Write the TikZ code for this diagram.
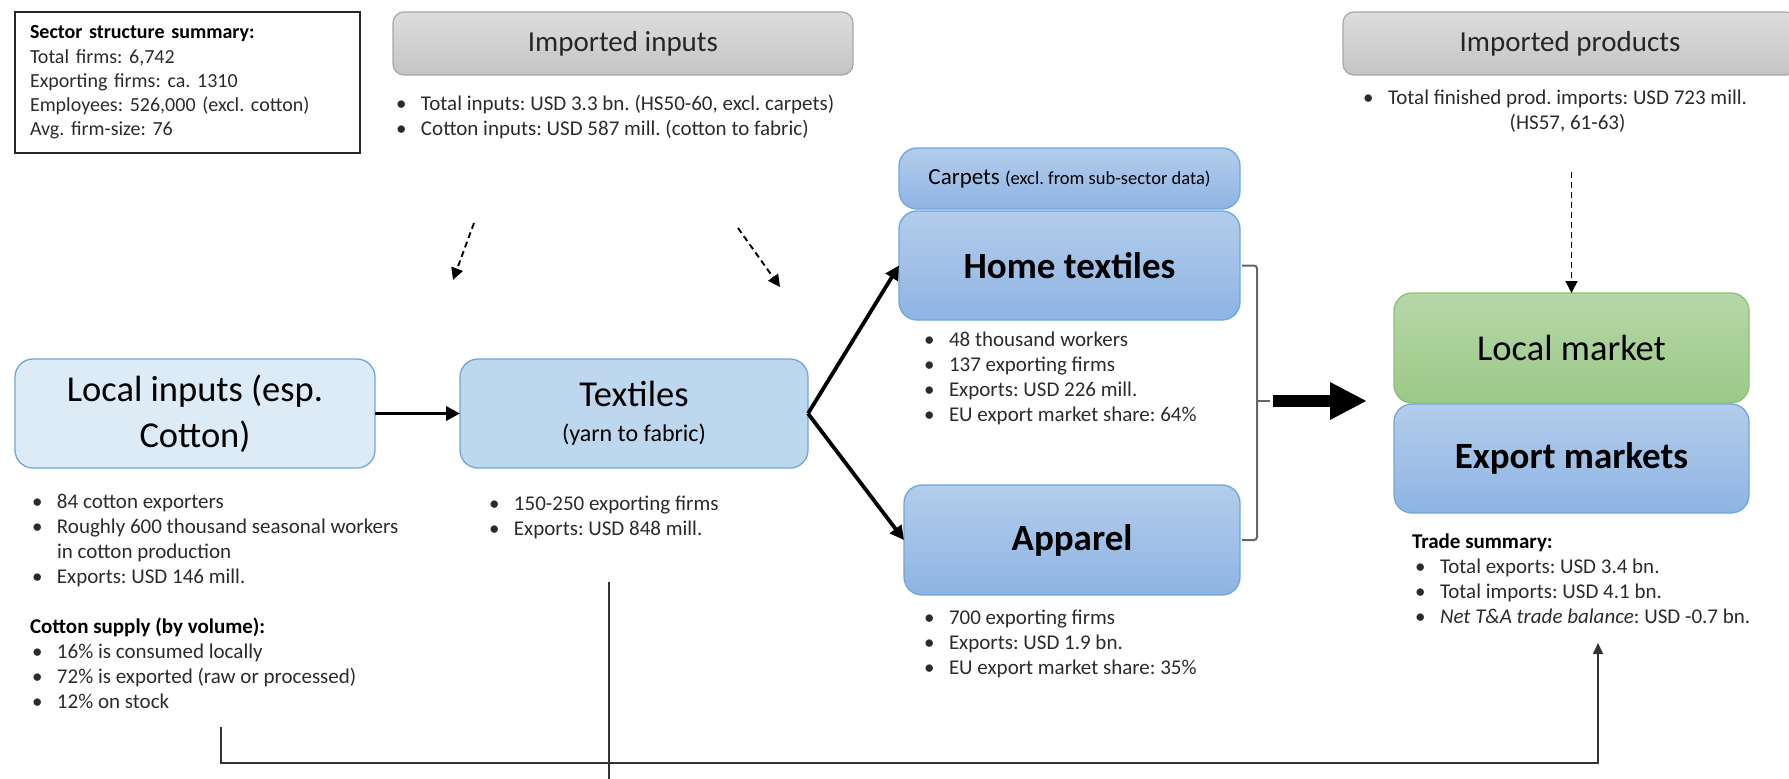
\documentclass[tikz,border=0pt]{standalone}
\usepackage{fontspec}
\setmainfont{Carlito}
\usetikzlibrary{arrows.meta}
\definecolor{lightfill}{HTML}{DDEBF7}
\definecolor{boxline}{HTML}{6FA6DC}
\definecolor{texfill}{HTML}{BDD7EE}
\definecolor{gbtop}{HTML}{B3CDEB}
\definecolor{gbbot}{HTML}{8EB4E3}
\definecolor{grtop}{HTML}{B6D7A8}
\definecolor{grbot}{HTML}{9BC987}
\definecolor{grline}{HTML}{8CC271}
\definecolor{gytop}{HTML}{DDDDDD}
\definecolor{gybot}{HTML}{C4C4C4}
\definecolor{gyline}{HTML}{A8A8A8}
\definecolor{bodytext}{HTML}{2B2B2B}
\newcommand{\bul}{\makebox[25pt][l]{\textbullet}}
\frenchspacing
\begin{document}
\begin{tikzpicture}[x=1pt,y=-1pt,
  every node/.style={inner sep=0pt,outer sep=0pt},
  boxbase/.style={rectangle,rounded corners=18pt,line width=1.3pt,align=center},
  lightbox/.style={boxbase,draw=boxline,fill=lightfill},
  texbox/.style={boxbase,draw=boxline,fill=texfill},
  bluebox/.style={boxbase,draw=boxline,top color=gbtop,bottom color=gbbot},
  greenbox/.style={boxbase,draw=grline,top color=grtop,bottom color=grbot},
  graybox/.style={rectangle,rounded corners=11pt,line width=1.2pt,draw=gyline,top color=gytop,bottom color=gybot,font=\fontsize{29}{34}\selectfont,text=black!85},
  title/.style={font=\fontsize{36.5}{45.5}\selectfont},
  btitle/.style={font=\fontsize{37}{45}\selectfont\bfseries},
  bultext/.style={anchor=north west,font=\fontsize{21}{25}\selectfont,text=bodytext},
  flow/.style={line width=3.8pt,-{Triangle[length=14pt,width=14pt]}},
  dasharr/.style={line width=1.9pt,dash pattern=on 6pt off 4pt,-{Triangle[length=12pt,width=12pt]}},
  conn/.style={line width=1.8pt,draw=black!80},
  bracket/.style={line width=2pt,draw=black!60,rounded corners=3pt}
]
\useasboundingbox (0,0) rectangle (1789,779);

% summary box
\node[draw=black!85,line width=1.3pt,minimum width=345pt,minimum height=141pt,text width=315pt,align=left,font=\fontsize{20}{24.3}\selectfont,text=bodytext] (summ) at (187.5,82.5)
 {\begin{tabular}{@{}l@{}}\textcolor{black}{\textbf{Sector structure summary:}}\\ Total firms: 6,742\\ Exporting firms: ca. 1310\\ Employees: 526,000 (excl. cotton)\\ Avg. firm-size: 76\end{tabular}};

% gray header boxes
\node[graybox,minimum width=460pt,minimum height=63pt] (impin) at (623,43.5) {Imported inputs};
\node[graybox,minimum width=454pt,minimum height=63pt] (impprod) at (1570,43.5) {Imported products};

\node[bultext] (impintxt) at (396,92.5) {\begin{tabular}{@{}l@{}}\bul Total inputs: USD 3.3 bn. (HS50-60, excl. carpets)\\ \bul Cotton inputs: USD 587 mill. (cotton to fabric)\end{tabular}};
\node[bultext] (impprodtxt) at (1363,86.5) {\begin{tabular}{@{}l@{}c@{}}\bul & Total finished prod. imports: USD 723 mill.\\ & (HS57, 61-63)\end{tabular}};

% main boxes
\node[lightbox,title,minimum width=360pt,minimum height=109pt] (local) at (195,413.5) {Local inputs (esp.\\ Cotton)};
\node[texbox,minimum width=348pt,minimum height=109pt,font=\fontsize{36.5}{35}\selectfont] (textiles) at (634,413.5) {Textiles\\{\fontsize{24}{35}\selectfont (yarn to fabric)}};
\node[bluebox,minimum width=341pt,minimum height=61pt] (carpets) at (1069.5,178.5) {\fontsize{23}{28}\selectfont Carpets {\fontsize{18.5}{22}\selectfont (excl. from sub-sector data)}};
\node[bluebox,btitle,minimum width=341pt,minimum height=109pt] (home) at (1069.5,265.5) {Home textiles};
\node[bluebox,btitle,minimum width=336pt,minimum height=110pt] (apparel) at (1072,540) {Apparel};
\node[greenbox,title,minimum width=355pt,minimum height=110pt] (lmarket) at (1571.5,348) {Local market};
\node[bluebox,btitle,minimum width=355pt,minimum height=109pt] (expm) at (1571.5,458.5) {Export markets};

% bullet texts
\node[bultext] (localtxt) at (32,490.5) {\begin{tabular}{@{}l@{}}
\bul 84 cotton exporters\\
\bul Roughly 600 thousand seasonal workers\\
\hspace*{25pt}in cotton production\\
\bul Exports: USD 146 mill.\\
\\
\hspace*{-2pt}\textcolor{black}{\textbf{Cotton supply (by volume):}}\\
\bul 16\% is consumed locally\\
\bul 72\% is exported (raw or processed)\\
\bul 12\% on stock\end{tabular}};
\node[bultext] (textxt) at (489,492.5) {\begin{tabular}{@{}l@{}}\bul 150-250 exporting firms\\ \bul Exports: USD 848 mill.\end{tabular}};
\node[bultext] (hometxt) at (924,328.5) {\begin{tabular}{@{}l@{}}\bul 48 thousand workers\\ \bul 137 exporting firms\\ \bul Exports: USD 226 mill.\\ \bul EU export market share: 64\%\end{tabular}};
\node[bultext] (apptxt) at (924,606.5) {\begin{tabular}{@{}l@{}}\bul 700 exporting firms\\ \bul Exports: USD 1.9 bn.\\ \bul EU export market share: 35\%\end{tabular}};
\node[bultext] (tradetxt) at (1412,530.5) {\begin{tabular}{@{}l@{}}\textcolor{black}{\textbf{Trade summary:}}\\ \hspace*{3pt}\bul Total exports: USD 3.4 bn.\\ \hspace*{3pt}\bul Total imports: USD 4.1 bn.\\ \hspace*{3pt}\bul \textit{Net T\&A trade balance}: USD -0.7 bn.\end{tabular}};

% coordinates
\coordinate (d1s) at (474,223);
\coordinate (d1e) at (453,280);
\coordinate (d2s) at (738,228);
\coordinate (d2e) at (780,287);
\coordinate (d3s) at (1571.5,172);
\coordinate (brmid) at (1257,401);
\coordinate (brtip) at (1270,401);
\coordinate (bigs) at (1273,401);
\coordinate (bige) at (1367,401);
\coordinate (cs) at (221,727);
\coordinate (ts) at (1598,643);
\coordinate (vt) at (609,582);
\coordinate (vb) at (609,779);

% connectors
\draw[flow] (local.east) -- (textiles.west);
\draw[flow] (textiles.east) -- (home.west);
\draw[flow] (textiles.east) -- (apparel.west);
\draw[dasharr] (d1s) -- (d1e);
\draw[dasharr] (d2s) -- (d2e);
\draw[dasharr,line width=1.6pt] (d3s) -- (lmarket.north);
\draw[bracket] ([xshift=2pt]home.east) -- ++(15,0) |- ([xshift=2pt]apparel.east);
\draw[bracket] (brmid) -- (brtip);
\draw[line width=12pt,-{Triangle[length=37pt,width=35pt]}] (bigs) -- (bige);
\draw[conn,-{Triangle[length=11pt,width=10pt]}] (cs) -- ++(0,36) -| (ts);
\draw[conn] (vt) -- (vb);
\end{tikzpicture}
\end{document}
